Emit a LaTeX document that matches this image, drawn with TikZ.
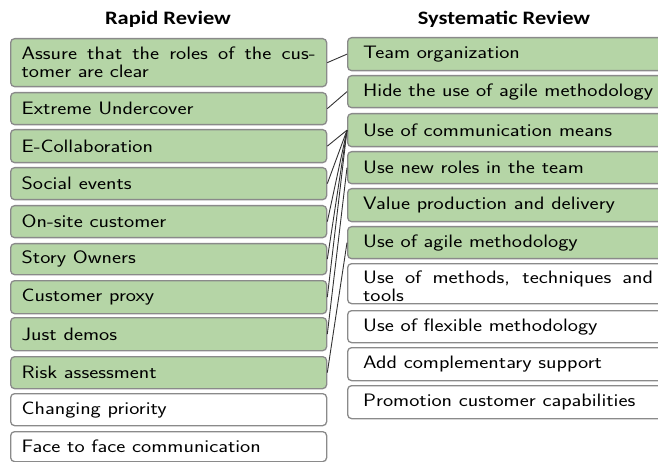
\documentclass[tikz,border=0pt]{standalone}
\usepackage{fontspec}
\setsansfont{Latin Modern Sans}[FakeStretch=1.2]
\newfontfamily\headfont{Carlito}[FakeStretch=1.18]
\definecolor{hitgreen}{HTML}{B5D5A6}
\definecolor{boxline}{HTML}{8A8A8A}
\definecolor{linkgray}{HTML}{333333}
\begin{document}
\begin{tikzpicture}[x=1pt,y=-1pt,
  box/.style={draw=boxline, line width=1.3pt, rounded corners=4pt, anchor=north west,
    inner sep=0pt, fill=white, font=\sffamily\fontsize{18}{18}\selectfont},
  hit/.style={box, fill=hitgreen},
  lw/.style={minimum width=316pt},
  rw/.style={minimum width=321pt},
  link/.style={draw=linkgray, line width=0.9pt},
  head/.style={font=\headfont\bfseries\fontsize{19}{22}\selectfont, anchor=base}]
\useasboundingbox (0,0) rectangle (658,462);

% column headings
\node[head] (hr) at (168,25) {Rapid Review};
\node[head] (hs) at (504,25) {Systematic Review};

% rapid review practices
\node[hit, lw, minimum height=48] (r1) at (10,38) {\parbox{294pt}{Assure that the roles of the cus-\linebreak tomer are clear}};
\node[hit, lw, minimum height=32] (r2) at (10,92) {\parbox{294pt}{Extreme Undercover}};
\node[hit, lw, minimum height=33] (r3) at (10,129) {\parbox{294pt}{E-Collaboration}};
\node[hit, lw, minimum height=32] (r4) at (10,167) {\parbox{294pt}{Social events}};
\node[hit, lw, minimum height=32] (r5) at (10,205) {\parbox{294pt}{On-site customer}};
\node[hit, lw, minimum height=31] (r6) at (10,243) {\parbox{294pt}{Story Owners}};
\node[hit, lw, minimum height=33] (r7) at (10,280) {\parbox{294pt}{Customer proxy}};
\node[hit, lw, minimum height=33] (r8) at (10,317) {\parbox{294pt}{Just demos}};
\node[hit, lw, minimum height=32] (r9) at (10,356) {\parbox{294pt}{Risk assessment}};
\node[box, lw, minimum height=32] (r10) at (10,393) {\parbox{294pt}{Changing priority}};
\node[box, lw, minimum height=30] (r11) at (10,431) {\parbox{294pt}{Face to face communication}};

% systematic review categories
\node[hit, rw, minimum height=33] (s1) at (347,37) {\parbox{290pt}{Team organization}};
\node[hit, rw, minimum height=32] (s2) at (347,75) {\parbox{290pt}{Hide the use of agile methodology}};
\node[hit, rw, minimum height=33] (s3) at (347,113) {\parbox{290pt}{Use of communication means}};
\node[hit, rw, minimum height=32] (s4) at (347,151) {\parbox{290pt}{Use new roles in the team}};
\node[hit, rw, minimum height=33] (s5) at (347,188) {\parbox{290pt}{Value production and delivery}};
\node[hit, rw, minimum height=32] (s6) at (347,226) {\parbox{290pt}{Use of agile methodology}};
\node[box, rw, minimum height=40] (s7) at (347,263) {\parbox[c][36pt][b]{290pt}{Use of methods, techniques and\linebreak tools}};
\node[box, rw, minimum height=32] (s8) at (347,310) {\parbox{290pt}{Use of flexible methodology}};
\node[box, rw, minimum height=33] (s9) at (347,347) {\parbox{290pt}{Add complementary support}};
\node[box, rw, minimum height=33] (s10) at (347,385) {\parbox{290pt}{Promotion customer capabilities}};

% correspondences
\draw[link] (r1.east) -- (s1.west);
\draw[link] (r2.east) -- (s2.west);
\draw[link] (r3.east) -- (s3.west);
\draw[link] (r4.east) -- (s3.west);
\draw[link] (r5.east) -- (s3.west);
\draw[link] (r6.east) -- (s3.west);
\draw[link] (r7.east) -- (s3.west);
\draw[link] (r8.east) -- (s4.west);
\draw[link] (r9.east) -- (s6.west);
\end{tikzpicture}
\end{document}
